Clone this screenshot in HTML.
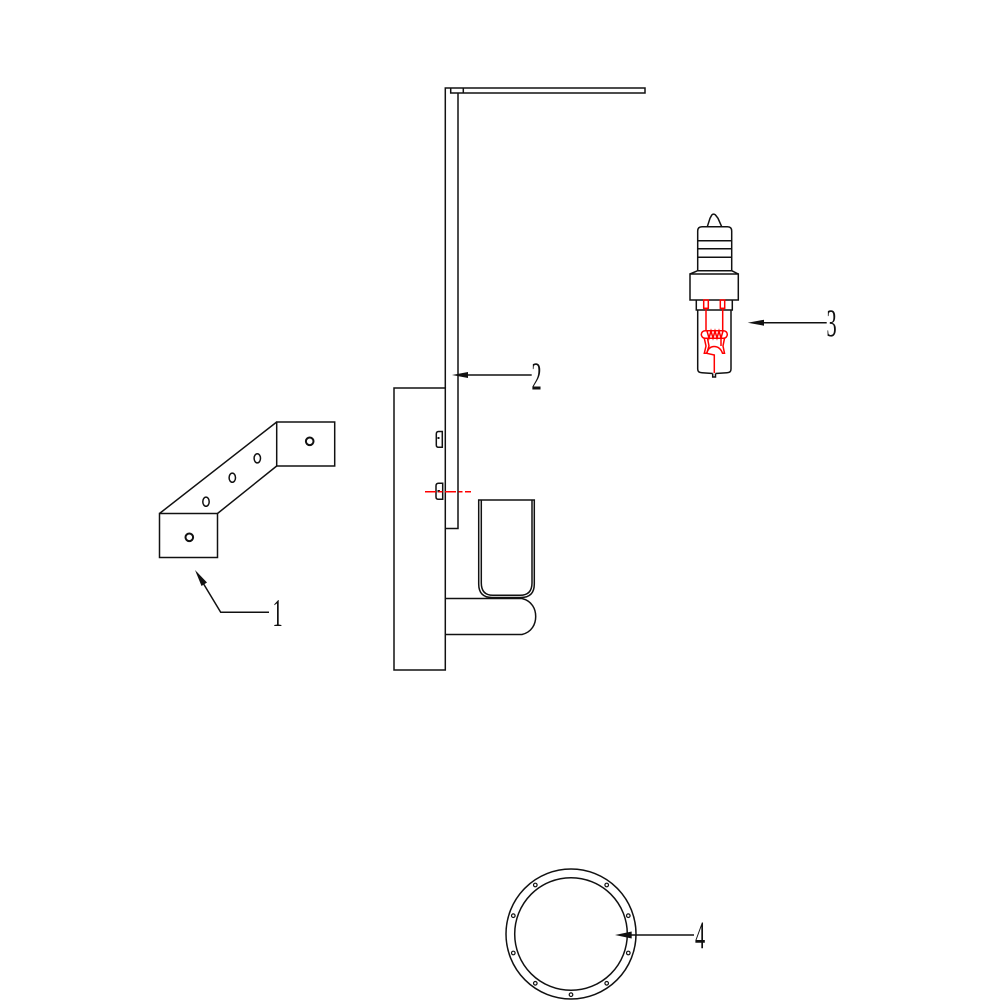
<!DOCTYPE html>
<html>
<head>
<meta charset="utf-8">
<style>
html,body{margin:0;padding:0;background:#fff;width:1000px;height:1000px;overflow:hidden}
svg{display:block}
text{font-family:"Liberation Serif",serif;fill:#111}
</style>
</head>
<body>
<svg width="1000" height="1000" viewBox="0 0 1000 1000" xmlns="http://www.w3.org/2000/svg">
<g fill="none" stroke="#111" stroke-width="1.5">
  <!-- Part 1: bracket -->
  <rect x="159.5" y="513.5" width="58" height="44"/>
  <rect x="276.7" y="422" width="58" height="44"/>
  <path d="M159.5 513.5L276.7 422M217.5 513.5L276.7 466"/>
  <circle cx="189.3" cy="537.3" r="3.8" stroke-width="2"/>
  <circle cx="309.7" cy="441.3" r="3.8" stroke-width="2"/>
  <ellipse cx="206" cy="501.7" rx="3.2" ry="4.6"/>
  <ellipse cx="232.3" cy="477.7" rx="3.2" ry="4.6"/>
  <ellipse cx="257.3" cy="458.3" rx="3.2" ry="4.6"/>
  <path d="M197 573L220.7 612.3H269"/>

  <!-- Part 2: lamp -->
  <rect x="394" y="388" width="51.3" height="282"/>
  <path d="M445.3 388V88H645V93H450.7V88M458 93V528.5H445.3M463.3 88V93"/>
  <path d="M442.3 431.5H438.5Q436.3 431.5 436.3 434V445Q436.3 447.3 438.5 447.3H442.3Z"/>
  <path d="M442.7 483.3H438.5Q436 483.3 436 486V497Q436 499.3 438.5 499.3H442.7Z"/>
  <path d="M478.7 500H534.3V584Q534.3 597.5 521 597.5H492Q478.7 597.5 478.7 584Z"/>
  <path d="M481.3 500V583Q481.3 595.3 493 595.3H520Q532 595.3 532 583V500"/>
  <path d="M445.3 598.5H522C532 601 535.7 609 535.7 616.5C535.7 624 532 632 522 634.5H445.3"/>
  <path d="M460 375H531.7"/>

  <!-- Part 3: bulb -->
  <path d="M707.3 226.7L710 218.3L711.8 215Q713.5 213.3 715.5 215L718 218.3L721.7 226.7"/>
  <path d="M697.7 270.7V231Q697.7 226.7 702 226.7H727.5Q731.7 226.7 731.7 231V270.7"/>
  <path d="M697.7 240.7H731.7M697.7 248.7H731.7M697.7 257.3H731.7M697.7 270.7H731.7"/>
  <path d="M697.7 270.7L690 274M731.7 270.7L738.3 274"/>
  <rect x="690" y="274" width="48.3" height="26"/>
  <path d="M696.3 300V310H732.3V300M697.7 310V369Q697.7 372.7 702 372.7L712.7 373.5M731 310V369Q731 372.7 727 372.7L715.5 373.5"/>
  <path d="M712.7 373.5V377H715.5V373.5"/>
  <path d="M755 322.7H826.7"/>

  <!-- Part 4: ring -->
  <circle cx="571" cy="934" r="65"/>
  <circle cx="571" cy="934" r="56.3"/>
  <g stroke-width="1.2">
    <circle cx="571" cy="994.7" r="1.8"/>
    <circle cx="628.3" cy="915.7" r="1.8"/>
    <circle cx="606.7" cy="885" r="1.8"/>
    <circle cx="535.3" cy="885" r="1.8"/>
    <circle cx="513.3" cy="915.7" r="1.8"/>
    <circle cx="513.3" cy="953" r="1.8"/>
    <circle cx="535.3" cy="983.3" r="1.8"/>
    <circle cx="606.7" cy="983.3" r="1.8"/>
    <circle cx="628.3" cy="953" r="1.8"/>
  </g>
  <path d="M622 935H694"/>
</g>

<!-- Arrowheads -->
<g fill="#111">
  <polygon points="195,570 207,582.5 201.5,586"/>
  <polygon points="452,375 468,372 468,378"/>
  <polygon points="747.7,322.7 764,319.7 764,325.7"/>
  <polygon points="615,935 631.7,931.5 631.7,938.5"/>
  <rect x="437.5" y="437" width="2" height="2"/>
  <rect x="437.5" y="490" width="2.4" height="2.4"/>
</g>

<!-- Red parts -->
<g fill="none" stroke="#f00" stroke-width="1.5">
  <path d="M425 491.7H471" stroke-dasharray="11 2.5 4 2.5"/>
  <rect x="703.7" y="300" width="4.6" height="8.3"/>
  <rect x="720.3" y="300" width="4.4" height="8.3"/>
  <path d="M706 308.3V330.7M722.7 308.3V330.7"/>
  <rect x="701.3" y="330.7" width="26" height="7.6" rx="3.8"/>
  <path d="M707 331L709 338L711 331L713 338L715 331L717 338L719 331L721 338L723 331"/>
  <path d="M704.3 338.3L706 346L704.3 353.3H706.7C708 349 710 346.5 714 346.5C718 346.5 721 349 722.5 353.3H724.5L723 346L724.5 338.3"/>
  <path d="M707.5 338.3L709 346L706.7 353.3M721 338.3L721 346"/>
  <path d="M706.7 353.3L714.3 355V373"/>
</g>

<!-- Labels -->
<g font-size="39">
  <text transform="translate(272.5 625.5) scale(0.52 1)">1</text>
  <text transform="translate(531.5 389) scale(0.52 1)">2</text>
  <text transform="translate(826.5 336) scale(0.52 1)">3</text>
  <text transform="translate(695 948) scale(0.52 1)">4</text>
</g>
</svg>
</body>
</html>
